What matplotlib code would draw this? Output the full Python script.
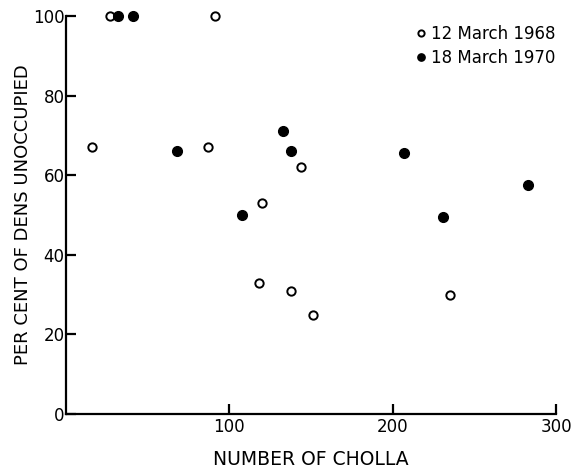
"""Percent of dens unoccupied versus number of cholla, two survey dates."""

import matplotlib

matplotlib.use("Agg")
import matplotlib.pyplot as plt

# 12 March 1968 (open circles)
cholla_1968 = [16, 27, 87, 91, 118, 120, 138, 144, 151, 235]
unoccupied_1968 = [67, 100, 67, 100, 33, 53, 31, 62, 25, 30]

# 18 March 1970 (filled circles)
cholla_1970 = [32, 41, 68, 108, 133, 138, 207, 231, 283]
unoccupied_1970 = [100, 100, 66, 50, 71, 66, 65.5, 49.5, 57.5]

x_ticks = [100, 200, 300]
y_ticks = [0, 20, 40, 60, 80, 100]

plt.rcParams["font.family"] = ["DejaVu Sans"]

fig = plt.figure(figsize=(5.87, 4.70), dpi=100)
ax = fig.add_axes([0.1124, 0.1191, 0.835, 0.847])

ax.plot(cholla_1968, unoccupied_1968, "o", ms=6, mfc="white", mec="black",
        mew=1.4, linestyle="none", clip_on=False, label="12 March 1968")
ax.plot(cholla_1970, unoccupied_1970, "o", ms=7, mfc="black", mec="black",
        linestyle="none", clip_on=False, label="18 March 1970")

ax.set_xlim(0, 300)
ax.set_ylim(0, 100)
ax.set_xticks(x_ticks)
ax.set_yticks(y_ticks)
for side in ("top", "right"):
    ax.spines[side].set_visible(False)
for side in ("left", "bottom"):
    ax.spines[side].set_linewidth(1.6)
ax.tick_params(direction="in", length=7, width=1.6, labelsize=12)
ax.tick_params(axis="x", pad=3)
ax.tick_params(axis="y", pad=1)

ax.set_xlabel("NUMBER OF CHOLLA", fontsize=13.5, labelpad=10)
ax.set_ylabel("PER CENT OF DENS UNOCCUPIED", fontsize=13, labelpad=1)

leg = ax.legend(loc="upper left", bbox_to_anchor=(0.7, 0.995), frameon=False,
                fontsize=12, handlelength=0.6, handletextpad=0.3,
                labelspacing=0.4, markerscale=0.75, borderaxespad=0)

fig.savefig("out.png", dpi=100)
